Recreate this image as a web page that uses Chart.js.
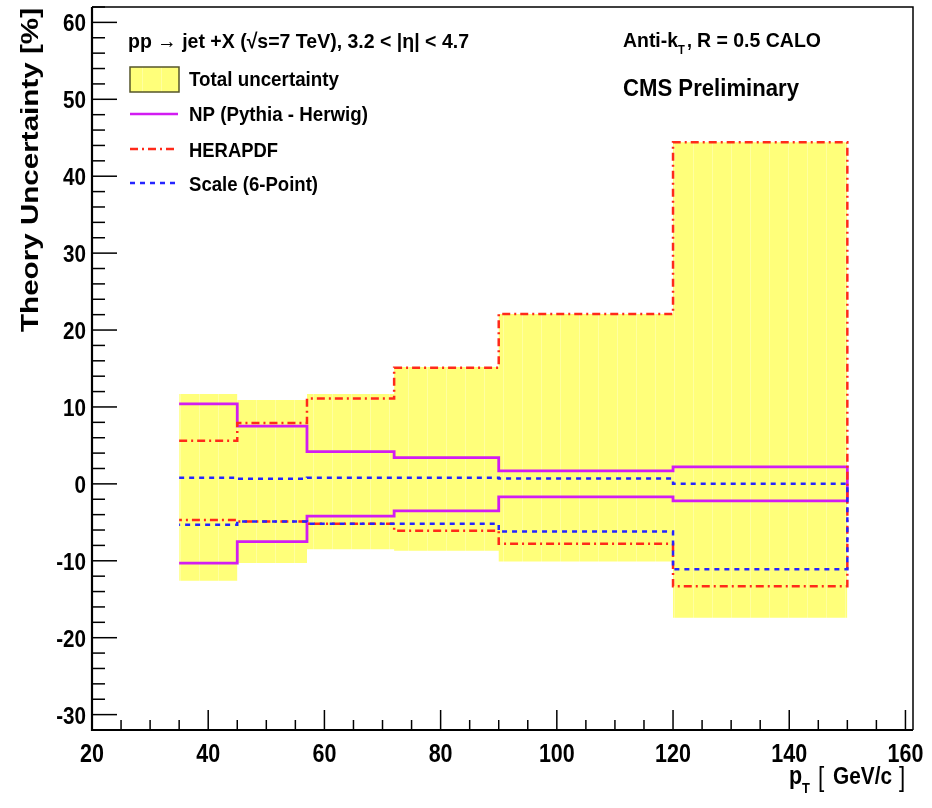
<!DOCTYPE html>
<html>
<head>
<meta charset="utf-8">
<script src="https://cdn.jsdelivr.net/npm/chart.js@4.4.1/dist/chart.umd.min.js"></script>
<style>
  html, body { margin: 0; padding: 0; background: #fff; }
  canvas { display: block; }
</style>
</head>
<body>
<canvas id="theoryChart" width="932" height="808"></canvas>
<script>
// bin edges in pT [GeV/c]
const binEdges = [35, 45, 57, 72, 90, 120, 150];

// uncertainties in % (upper / lower) per bin
const totalUp = [11.7, 10.9, 11.7, 15.2, 22.1, 44.4];
const totalDown = [-12.6, -10.3, -8.5, -8.7, -10.1, -17.4];
const npUp = [10.4, 7.5, 4.2, 3.4, 1.7, 2.2];
const npDown = [-10.3, -7.5, -4.2, -3.5, -1.7, -2.2];
const pdfUp = [5.6, 7.9, 11.1, 15.1, 22.1, 44.4];
const pdfDown = [-4.7, -4.9, -5.2, -6.1, -7.8, -13.3];
const scaleUp = [0.8, 0.65, 0.8, 0.8, 0.7, 0.0];
const scaleDown = [-5.3, -4.9, -5.2, -5.2, -6.2, -11.1];

const legendLabels = ['Total uncertainty', 'NP (Pythia - Herwig)', 'HERAPDF', 'Scale (6-Point)'];
const xTicks = [20, 40, 60, 80, 100, 120, 140, 160];
const yTicks = [-30, -20, -10, 0, 10, 20, 30, 40, 50, 60];

const FONT = '"Liberation Sans", Arial, Helvetica, sans-serif';
const SX = 0.86; // text looks horizontally squeezed in the original

// build histogram-style step points from edges and values
function stepLine(edges, vals) {
    const pts = [];
    vals.forEach((v, i) => {
        pts.push({ x: edges[i], y: v });
        pts.push({ x: edges[i + 1], y: v });
    });
    return pts;
}

// upper band left->right, then down at the last edge, then lower band right->left
function stepLoop(edges, up, lo) {
    return stepLine(edges, up).concat(stepLine(edges, lo).reverse());
}

// yellow fill with faint vertical stripes
function makeYellow() {
    const c = document.createElement('canvas');
    c.width = 19; c.height = 4;
    const g = c.getContext('2d');
    g.fillStyle = '#ffff7a';
    g.fillRect(0, 0, 19, 4);
    g.fillStyle = '#ffffa0';
    g.fillRect(9, 0, 1, 4);
    return g.createPattern(c, 'repeat');
}

function drawScaled(ctx, text, x, y, size, sx, align, weight) {
    ctx.save();
    ctx.font = (weight || 'bold') + ' ' + size + 'px ' + FONT;
    ctx.textAlign = align || 'left';
    ctx.textBaseline = 'alphabetic';
    ctx.translate(x, y);
    ctx.scale(sx, 1);
    ctx.fillText(text, 0, 0);
    ctx.restore();
}

function drawFit(ctx, text, x, y, size, width, align) {
    ctx.save();
    ctx.font = 'bold ' + size + 'px ' + FONT;
    const w = ctx.measureText(text).width;
    ctx.restore();
    drawScaled(ctx, text, x, y, size, width / w, align);
}

const rootStyle = {
    id: 'rootStyle',
    afterDraw(chart) {
        const ctx = chart.ctx;
        const area = chart.chartArea;
        const xs = chart.scales.x;
        const ys = chart.scales.y;
        ctx.save();
        ctx.fillStyle = '#000';
        ctx.strokeStyle = '#000';

        // frame
        ctx.lineWidth = 1.5;
        ctx.beginPath();
        ctx.moveTo(area.left, area.top);
        ctx.lineTo(area.right, area.top);
        ctx.lineTo(area.right, area.bottom);
        ctx.stroke();
        ctx.lineWidth = 2.2;
        ctx.beginPath();
        ctx.moveTo(area.left, area.top);
        ctx.lineTo(area.left, area.bottom);
        ctx.lineTo(area.right, area.bottom);
        ctx.stroke();

        // y ticks, major every 10, minor every 2
        ctx.lineWidth = 1.5;
        for (let v = -30; v <= 62; v += 2) {
            const py = ys.getPixelForValue(v);
            const len = (v % 10 === 0) ? 25 : 13;
            ctx.beginPath();
            ctx.moveTo(area.left, py);
            ctx.lineTo(area.left + len, py);
            ctx.stroke();
        }
        // x ticks, major every 20, minor every 5
        for (let v = 20; v <= 161; v += 5) {
            const px = xs.getPixelForValue(v);
            const len = (v % 20 === 0) ? 20 : 10;
            ctx.beginPath();
            ctx.moveTo(px, area.bottom);
            ctx.lineTo(px, area.bottom - len);
            ctx.stroke();
        }

        // tick labels
        yTicks.forEach(v => {
            drawScaled(ctx, String(v), area.left - 6, ys.getPixelForValue(v) + 9, 24, SX, 'right');
        });
        xTicks.forEach(v => {
            drawScaled(ctx, String(v), xs.getPixelForValue(v), area.bottom + 32, 25, SX, 'center');
        });

        // axis titles
        ctx.save();
        ctx.translate(38, 332);
        ctx.rotate(-Math.PI / 2);
        drawFit(ctx, 'Theory Uncertainty [%]', 0, 0, 23, 324, 'left');
        ctx.restore();

        drawScaled(ctx, 'p', 789, 784, 25, SX, 'left');
        drawScaled(ctx, 'T', 802, 793, 15, SX, 'left');
        drawScaled(ctx, '[', 818, 786, 28, 0.8, 'left', 'normal');
        drawFit(ctx, 'GeV/c', 833, 784, 24, 59, 'left');
        drawScaled(ctx, ']', 899, 786, 28, 0.8, 'left', 'normal');

        // header + legend
        drawFit(ctx, 'pp \u2192 jet +X (\u221As=7 TeV), 3.2 < |\u03b7| < 4.7', 128, 48, 21, 341, 'left');

        ctx.fillStyle = makeYellow();
        ctx.fillRect(130, 67, 49, 25);
        ctx.strokeStyle = '#55552a';
        ctx.lineWidth = 1.5;
        ctx.strokeRect(130, 67, 49, 25);

        const samples = [
            { y: 114, color: '#d21cf2', dash: [] },
            { y: 149, color: '#ff2a1a', dash: [8, 4, 2, 4] },
            { y: 183, color: '#2424ff', dash: [5, 5] }
        ];
        samples.forEach(s => {
            ctx.strokeStyle = s.color;
            ctx.lineWidth = 2.5;
            ctx.setLineDash(s.dash);
            ctx.beginPath();
            ctx.moveTo(130, s.y);
            ctx.lineTo(178, s.y);
            ctx.stroke();
        });
        ctx.setLineDash([]);

        ctx.fillStyle = '#000';
        drawFit(ctx, legendLabels[0], 189, 86, 21, 150, 'left');
        drawFit(ctx, legendLabels[1], 189, 121, 21, 179, 'left');
        drawFit(ctx, legendLabels[2], 189, 157, 21, 89, 'left');
        drawFit(ctx, legendLabels[3], 189, 191, 21, 129, 'left');

        // labels top right
        drawFit(ctx, 'Anti-k', 623, 47, 20, 55, 'left');
        drawScaled(ctx, 'T', 678, 54, 13, SX, 'left');
        drawFit(ctx, ',', 687, 47, 20, 5, 'left');
        drawFit(ctx, 'R = 0.5 CALO', 697, 47, 20, 124, 'left');
        drawFit(ctx, 'CMS Preliminary', 623, 96, 24, 176, 'left');

        ctx.restore();
    }
};

const ctx = document.getElementById('theoryChart').getContext('2d');
new Chart(ctx, {
    type: 'line',
    data: {
        datasets: [
            {
                label: legendLabels[0],
                data: stepLine(binEdges, totalUp),
                borderWidth: 0,
                borderColor: 'rgba(0,0,0,0)',
                backgroundColor: makeYellow(),
                pointRadius: 0,
                fill: '+1',
                order: 10
            },
            {
                label: 'total low',
                data: stepLine(binEdges, totalDown),
                borderWidth: 0,
                borderColor: 'rgba(0,0,0,0)',
                pointRadius: 0,
                fill: false,
                order: 9
            },
            {
                label: legendLabels[1],
                data: stepLoop(binEdges, npUp, npDown),
                borderColor: '#d21cf2',
                borderWidth: 2.8,
                pointRadius: 0,
                fill: false,
                order: 3
            },
            {
                label: legendLabels[2],
                data: stepLoop(binEdges, pdfUp, pdfDown),
                borderColor: '#ff2a1a',
                borderWidth: 2.5,
                borderDash: [8, 4, 2, 4],
                pointRadius: 0,
                fill: false,
                order: 2
            },
            {
                label: legendLabels[3],
                data: stepLoop(binEdges, scaleUp, scaleDown),
                borderColor: '#2424ff',
                borderWidth: 2.5,
                borderDash: [5, 5],
                pointRadius: 0,
                fill: false,
                order: 1
            }
        ]
    },
    options: {
        responsive: false,
        animation: false,
        devicePixelRatio: 1,
        layout: { padding: { left: 84, right: 19, top: 7, bottom: 70 } },
        plugins: {
            legend: { display: false },
            tooltip: { enabled: false }
        },
        scales: {
            x: {
                type: 'linear',
                min: 20,
                max: 161.3,
                ticks: { display: false },
                grid: { display: false },
                border: { display: false }
            },
            y: {
                type: 'linear',
                min: -32,
                max: 62,
                ticks: { display: false },
                grid: { display: false },
                border: { display: false }
            }
        }
    },
    plugins: [rootStyle]
});
</script>
</body>
</html>
